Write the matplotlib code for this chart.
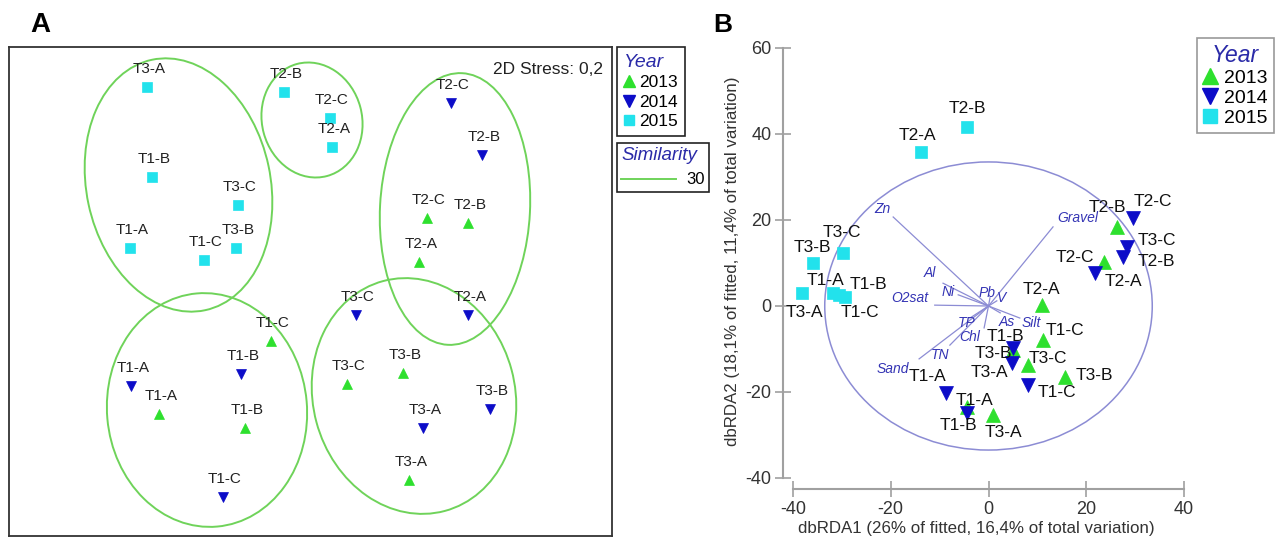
import matplotlib
matplotlib.use("Agg")
import matplotlib.pyplot as plt
from matplotlib.patches import Ellipse
from matplotlib.lines import Line2D

plt.rcParams['font.family'] = ['Liberation Sans', 'DejaVu Sans']
plt.rcParams['axes.unicode_minus'] = False

years = ['2013', '2014', '2015']
sites = ['T1-A', 'T1-B', 'T1-C', 'T2-A', 'T2-B', 'T2-C', 'T3-A', 'T3-B', 'T3-C']

# --- panel A: nMDS (arbitrary ordination units) ---
nmds_x13 = [150, 236, 262, 410, 459, 418, 400, 394, 338]
nmds_y13 = [122, 108, 195, 274, 313, 318, 56, 163, 152]
nmds_x14 = [122, 232, 214, 459, 473, 442, 414, 481, 347]
nmds_y14 = [150, 162, 39, 221, 381, 433, 108, 127, 221]
nmds_x15 = [121, 143, 195, 323, 275, 321, 138, 227, 229]
nmds_y15 = [288, 359, 276, 389, 444, 418, 449, 288, 331]

# similarity 30% contours (centre x, centre y, width, height, tilt)
contour_cx = [169.5, 303, 446, 198, 405]
contour_cy = [351, 416, 327, 126, 140]
contour_w = [184, 100, 150, 200, 202]
contour_h = [256, 116, 272, 234, 238]
contour_tilt = [12, 15, -3, 5, 15]

# --- panel B: dbRDA ---
rda_x13 = [-4.4, 5.1, 11.2, 10.9, 26.3, 23.6, 1.0, 15.6, 8.1]
rda_y13 = [-23.6, -10.3, -7.9, 0.2, 18.4, 10.2, -25.3, -16.5, -13.7]
rda_x14 = [-8.7, -4.4, 8.1, 21.8, 27.5, 29.6, 4.9, 5.1, 28.3]
rda_y14 = [-20.2, -24.9, -18.4, 7.7, 11.4, 20.5, -13.3, -9.8, 13.7]
sites15_b = ['T1-A', 'T1-B', 'T1-C', 'T2-A', 'T2-B', 'T3-A', 'T3-B', 'T3-C']
rda_x15 = [-31.8, -30.5, -29.3, -13.8, -4.4, -38.2, -35.9, -29.8]
rda_y15 = [3.0, 2.6, 2.0, 35.8, 41.6, 3.0, 10.0, 12.3]

env_vars = ['Zn', 'Gravel', 'Al', 'Ni', 'O2sat', 'Pb', 'V', 'As', 'Silt', 'TP', 'Chl', 'TN', 'Sand']
env_x = [-19.5, 13.2, -9.3, -6.2, -11.0, 0.3, 1.7, 2.4, 6.4, -3.8, -0.9, -7.9, -14.2]
env_y = [20.7, 18.4, 5.3, 2.6, 0.2, 1.9, 1.2, -1.6, -2.8, -2.8, -5.1, -9.1, -12.3]
circle_r = 33.5

# label placement (pixels)
lab_off_b = {
    ('2013', 'T1-A'): (8, 7), ('2013', 'T1-B'): (-8, 14), ('2013', 'T1-C'): (22, 9),
    ('2013', 'T2-A'): (0, 16), ('2013', 'T2-B'): (-10, 19), ('2013', 'T2-C'): (-29, 5),
    ('2013', 'T3-A'): (10, -18), ('2013', 'T3-B'): (30, 1), ('2013', 'T3-C'): (20, 6),
    ('2014', 'T1-A'): (-18, 16), ('2014', 'T1-B'): (-9, -12), ('2014', 'T1-C'): (29, -7),
    ('2014', 'T2-A'): (28, -9), ('2014', 'T2-B'): (33, -5), ('2014', 'T2-C'): (20, 16),
    ('2014', 'T3-A'): (-23, -9), ('2014', 'T3-B'): (-20, -5), ('2014', 'T3-C'): (30, 7),
    ('2015', 'T1-A'): (-8, 13), ('2015', 'T1-B'): (29, 10), ('2015', 'T1-C'): (15, -15),
    ('2015', 'T2-A'): (-4, 17), ('2015', 'T2-B'): (0, 19), ('2015', 'T3-A'): (3, -19),
    ('2015', 'T3-B'): (-1, 16), ('2015', 'T3-C'): (-1, 21),
}
env_off = {'Zn': (-11, 8), 'Gravel': (25, 9), 'Al': (-13, 10), 'Ni': (-10, 3),
           'O2sat': (-25, 7), 'Pb': (-3, 5), 'V': (5, 3), 'As': (7, -9), 'Silt': (12, -5),
           'TP': (-3, -5), 'Chl': (-14, -9), 'TN': (-10, -10), 'Sand': (-26, -10)}

green = '#2ee02e'
blue = '#0c0cc8'
cyan = '#22e2ec'
lgreen = '#6fd35a'
vec_col = '#8c8cd4'
var_col = '#3434b4'

W, H = 1277, 540
fig = plt.figure(figsize=(W / 100, H / 100), dpi=100)

# ---------------- panel A ----------------
axA = fig.add_axes([9 / W, 1 - 536 / H, 603 / W, 489 / H])
axA.set_xlim(0, 603)
axA.set_ylim(0, 489)
axA.set_xticks([])
axA.set_yticks([])
for s in axA.spines.values():
    s.set_color('#333333')
    s.set_linewidth(1.3)

for cx, cy, w, h, a in zip(contour_cx, contour_cy, contour_w, contour_h, contour_tilt):
    axA.add_patch(Ellipse((cx, cy), w, h, angle=a, fill=False, ec=lgreen, lw=1.4))

groupsA = [(nmds_x13, nmds_y13, '^', green, 7), (nmds_x14, nmds_y14, 'v', blue, 7),
           (nmds_x15, nmds_y15, 's', cyan, 6.5)]
for xs, ys, m, c, ms in groupsA:
    axA.plot(xs, ys, ls='none', marker=m, color=c, ms=ms, mec=c, mew=0.5)
    for xi, yi, s in zip(xs, ys, sites):
        axA.annotate(s, (xi, yi), xytext=(2, 18), textcoords='offset pixels',
                     ha='center', va='center', fontsize=11, color='#222222')

axA.text(0.985, 0.97, '2D Stress: 0,2', transform=axA.transAxes, ha='right', va='top',
         fontsize=12.5, color='#222222')

year_handles_a = [Line2D([], [], ls='none', marker='^', color=green, ms=8),
                  Line2D([], [], ls='none', marker='v', color=blue, ms=8),
                  Line2D([], [], ls='none', marker='s', color=cyan, ms=7)]
legA = fig.legend(year_handles_a, years, loc='upper left', bbox_to_anchor=(617 / W, 1 - 47 / H),
                  title='Year', fontsize=12.5, handlelength=0.6, handletextpad=0.3,
                  labelspacing=0.25, borderpad=0.4, borderaxespad=0, fancybox=False,
                  edgecolor='#222222', framealpha=1, alignment='left')
legA.get_title().set_fontsize(14)
legA.get_title().set_style('italic')
legA.get_title().set_color('#2a2aa8')
legA.get_frame().set_linewidth(1.2)

legS = fig.legend([Line2D([], [], color=lgreen, lw=1.4)], ['30'], loc='upper left',
                  bbox_to_anchor=(617 / W, 1 - 143 / H), title='Similarity', fontsize=12,
                  handlelength=3.3, handletextpad=0.6, borderpad=0.25, borderaxespad=0,
                  fancybox=False, edgecolor='#222222', framealpha=1, alignment='left')
legS.get_title().set_fontsize(13.5)
legS.get_title().set_style('italic')
legS.get_title().set_color('#2a2aa8')
legS.get_frame().set_linewidth(1.2)

fig.text(30 / W, 1 - 25 / H, 'A', fontsize=20, fontweight='bold', va='center', ha='left')

# ---------------- panel B ----------------
axB = fig.add_axes([783.2 / W, 1 - 488.75 / H, 410.6 / W, 449.35 / H])
axB.set_xlim(-42, 42)
axB.set_ylim(-42.5, 62)
for side in ['top', 'right']:
    axB.spines[side].set_visible(False)
for side in ['left', 'bottom']:
    axB.spines[side].set_color('#a0a0a0')
    axB.spines[side].set_linewidth(1.5)
axB.spines['left'].set_bounds(-40, 60)
axB.spines['bottom'].set_bounds(-40, 40)
axB.set_xticks([-40, -20, 0, 20, 40])
axB.set_yticks([-40, -20, 0, 20, 40, 60])
axB.tick_params(direction='inout', length=11, width=1.2, color='#a0a0a0',
                labelsize=13, labelcolor='#333333', pad=3)
axB.patch.set_alpha(0)

axB.add_patch(Ellipse((0, 0), 2 * circle_r, 2 * circle_r, fill=False, ec=vec_col, lw=1.1))
for vx, vy, name in zip(env_x, env_y, env_vars):
    axB.plot([0, vx], [0, vy], color=vec_col, lw=0.9)
    axB.annotate(name, (vx, vy), xytext=env_off[name], textcoords='offset pixels',
                 ha='center', va='center', fontsize=10, style='italic', color=var_col)

groupsB = [('2013', sites, rda_x13, rda_y13, '^', green, 10),
           ('2014', sites, rda_x14, rda_y14, 'v', blue, 10),
           ('2015', sites15_b, rda_x15, rda_y15, 's', cyan, 9)]
for yr, names, xs, ys, m, c, ms in groupsB:
    axB.plot(xs, ys, ls='none', marker=m, color=c, ms=ms, mec=c, mew=0.5)
for yr, names, xs, ys, m, c, ms in groupsB:
    for xi, yi, s in zip(xs, ys, names):
        axB.annotate(s, (xi, yi), xytext=lab_off_b[(yr, s)], textcoords='offset pixels',
                     ha='center', va='center', fontsize=12.5, color='#111111')

axB.set_xlabel('dbRDA1 (26% of fitted, 16,4% of total variation)', fontsize=12.2, color='#333333')
axB.set_ylabel('dbRDA2 (18,1% of fitted, 11,4% of total variation)', fontsize=12.2, color='#333333')
axB.xaxis.set_label_coords(0.47, -0.072)
axB.yaxis.set_label_coords(-0.105, 0.507)

year_handles_b = [Line2D([], [], ls='none', marker='^', color=green, ms=11),
                  Line2D([], [], ls='none', marker='v', color=blue, ms=11),
                  Line2D([], [], ls='none', marker='s', color=cyan, ms=9.5)]
legB = fig.legend(year_handles_b, years, loc='upper left', bbox_to_anchor=(1197 / W, 1 - 38 / H),
                  title='Year', fontsize=14, handlelength=0.7, handletextpad=0.4,
                  labelspacing=0.12, borderpad=0.3, borderaxespad=0, fancybox=False,
                  edgecolor='#999999', framealpha=1, alignment='center')
legB.get_title().set_fontsize(16.5)
legB.get_title().set_style('italic')
legB.get_title().set_color('#2a2aa8')
legB.get_frame().set_linewidth(1.2)

fig.text(713 / W, 1 - 25 / H, 'B', fontsize=19, fontweight='bold', va='center', ha='left')

fig.savefig('out.png', dpi=100)
